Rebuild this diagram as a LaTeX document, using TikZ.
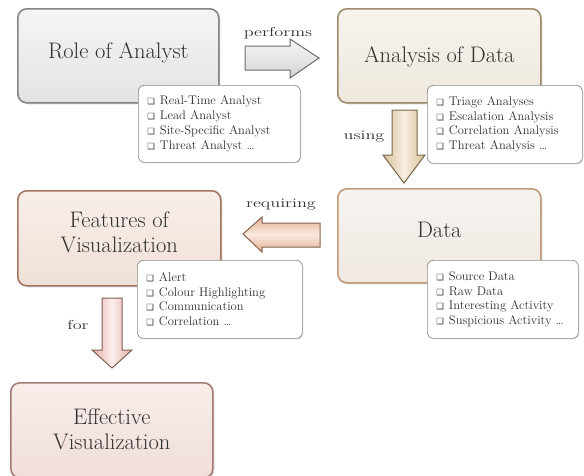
\documentclass[tikz,border=0pt]{standalone}
\usepackage{fontspec}
\newfontfamily\symf{DejaVu Sans}
\usetikzlibrary{shadows}
\definecolor{txtc}{HTML}{303030}
\definecolor{roleTop}{HTML}{F5F5F5}\definecolor{roleBot}{HTML}{E3E3E3}\definecolor{roleDraw}{HTML}{858585}
\definecolor{anaTop}{HTML}{F7F4EE}\definecolor{anaBot}{HTML}{EEE8DD}\definecolor{anaDraw}{HTML}{A08C6C}
\definecolor{dataTop}{HTML}{F6F3EF}\definecolor{dataBot}{HTML}{F0E9E2}\definecolor{dataDraw}{HTML}{C09A78}
\definecolor{featTop}{HTML}{F8EFEA}\definecolor{featBot}{HTML}{F0E0D7}\definecolor{featDraw}{HTML}{A47762}
\definecolor{effTop}{HTML}{F8EDEA}\definecolor{effBot}{HTML}{F0DED9}\definecolor{effDraw}{HTML}{A67B76}
\definecolor{perfA}{HTML}{D2D2D2}\definecolor{perfB}{HTML}{F8F8F8}\definecolor{perfDraw}{HTML}{6A6A6A}
\definecolor{useA}{HTML}{D8C198}\definecolor{useB}{HTML}{F6EEDF}\definecolor{useDraw}{HTML}{7A6648}
\definecolor{reqA}{HTML}{E2AE90}\definecolor{reqB}{HTML}{FAEAE0}\definecolor{reqDraw}{HTML}{86624E}
\definecolor{forA}{HTML}{E3B0A8}\definecolor{forB}{HTML}{FBEEEC}\definecolor{forDraw}{HTML}{875C58}
\newcommand\chk{{\symf\fontsize{8.5}{8.5}\selectfont ❑}\hspace{5pt}}
\newcommand\wide[1]{\scalebox{1.4}[1]{#1}}
\tikzset{
  mainbox/.style={draw, line width=1.6pt, rounded corners=9pt, anchor=north west,
    inner sep=0pt,
    drop shadow={shadow xshift=1.5pt, shadow yshift=-1.5pt, opacity=0.35}},
  title/.style={align=center, text=txtc, inner sep=0pt,
    font=\fontsize{22.5}{25}\selectfont},
  listbox/.style={draw=black!45, line width=0.7pt, rounded corners=6pt, fill=white,
    anchor=north west, inner xsep=9pt, inner ysep=0pt, align=left, text=txtc,
    font=\fontsize{12.5}{14.7}\selectfont,
    drop shadow={shadow xshift=1pt, shadow yshift=-1pt, opacity=0.25}},
  lbl/.style={text=txtc, font=\fontsize{13}{14}\selectfont},
  blockarr/.style={line width=1pt, line join=miter},
}
\begin{document}
\begin{tikzpicture}[x=1pt,y=-1pt]
\useasboundingbox (0,0) rectangle (584,475);

% main boxes
\node[mainbox, draw=roleDraw, top color=roleTop, bottom color=roleBot,
  minimum width=201pt, minimum height=94pt] (role) at (17,8) {};
\node[title] (roleT) at ([yshift=3pt]role.center) {Role of Analyst};
\node[mainbox, draw=anaDraw, top color=anaTop, bottom color=anaBot,
  minimum width=203pt, minimum height=94pt] (analysis) at (337,8) {};
\node[title] (analysisT) at ([yshift=-1pt]analysis.center) {Analysis of Data};
\node[mainbox, draw=dataDraw, top color=dataTop, bottom color=dataBot,
  minimum width=203pt, minimum height=94pt] (data) at (337,188) {};
\node[title] (dataT) at ([yshift=6pt]data.center) {Data};
\node[mainbox, draw=featDraw, top color=featTop, bottom color=featBot,
  minimum width=203pt, minimum height=95pt] (features) at (17,190) {};
\node[title] (featuresT) at ([yshift=6pt]features.center) {Features of\\Visualization};
\node[mainbox, draw=effDraw, top color=effTop, bottom color=effBot,
  minimum width=202pt, minimum height=95pt] (effective) at (10,382) {};
\node[title] (effectiveT) at ([yshift=1pt]effective.center) {Effective\\Visualization};

% list boxes
\node[listbox, text width=144pt, minimum height=77pt] (l1) at (138,85)
  {\chk Real-Time Analyst\\ \chk Lead Analyst\\ \chk Site-Specific Analyst\\ \chk Threat Analyst \ldots};
\node[listbox, text width=137pt, minimum height=78pt] (l2) at (427,85)
  {\chk Triage Analyses\\ \chk Escalation Analysis\\ \chk Correlation Analysis\\ \chk Threat Analysis \ldots};
\node[listbox, text width=147pt, minimum height=78pt] (l3) at (137,260)
  {\chk Alert\\ \chk Colour Highlighting\\ \chk Communication\\ \chk Correlation \ldots};
\node[listbox, text width=133pt, minimum height=78pt] (l4) at (427,260)
  {\chk Source Data\\ \chk Raw Data\\ \chk Interesting Activity\\ \chk Suspicious Activity \ldots};

% block arrows
\draw[blockarr, draw=perfDraw, top color=perfB, bottom color=perfA]
  (245,46) -- (290,46) -- (290,39) -- (319,58) -- (290,78) -- (290,70) -- (245,70) -- cycle;
\node[lbl] (lperf) at (278,33) {\wide{performs}};

\draw[blockarr, draw=useDraw, left color=useA, right color=useA, middle color=useB]
  (392,110) -- (417,110) -- (417,155) -- (425,155) -- (404,183) -- (383,155) -- (392,155) -- cycle;
\node[lbl] (lusing) at (364,137) {\wide{using}};

\draw[blockarr, draw=reqDraw, top color=reqA, bottom color=reqA, middle color=reqB]
  (320,223) -- (262,223) -- (262,217) -- (243,234) -- (262,252) -- (262,247) -- (320,247) -- cycle;
\node[lbl] (lreq) at (281,205) {\wide{requiring}};

\draw[blockarr, draw=forDraw, left color=forA, right color=forA, middle color=forB]
  (102,298) -- (122,298) -- (122,350) -- (132,350) -- (112,368) -- (92,350) -- (102,350) -- cycle;
\node[lbl] (lfor) at (78,325) {\wide{for}};
\end{tikzpicture}
\end{document}
